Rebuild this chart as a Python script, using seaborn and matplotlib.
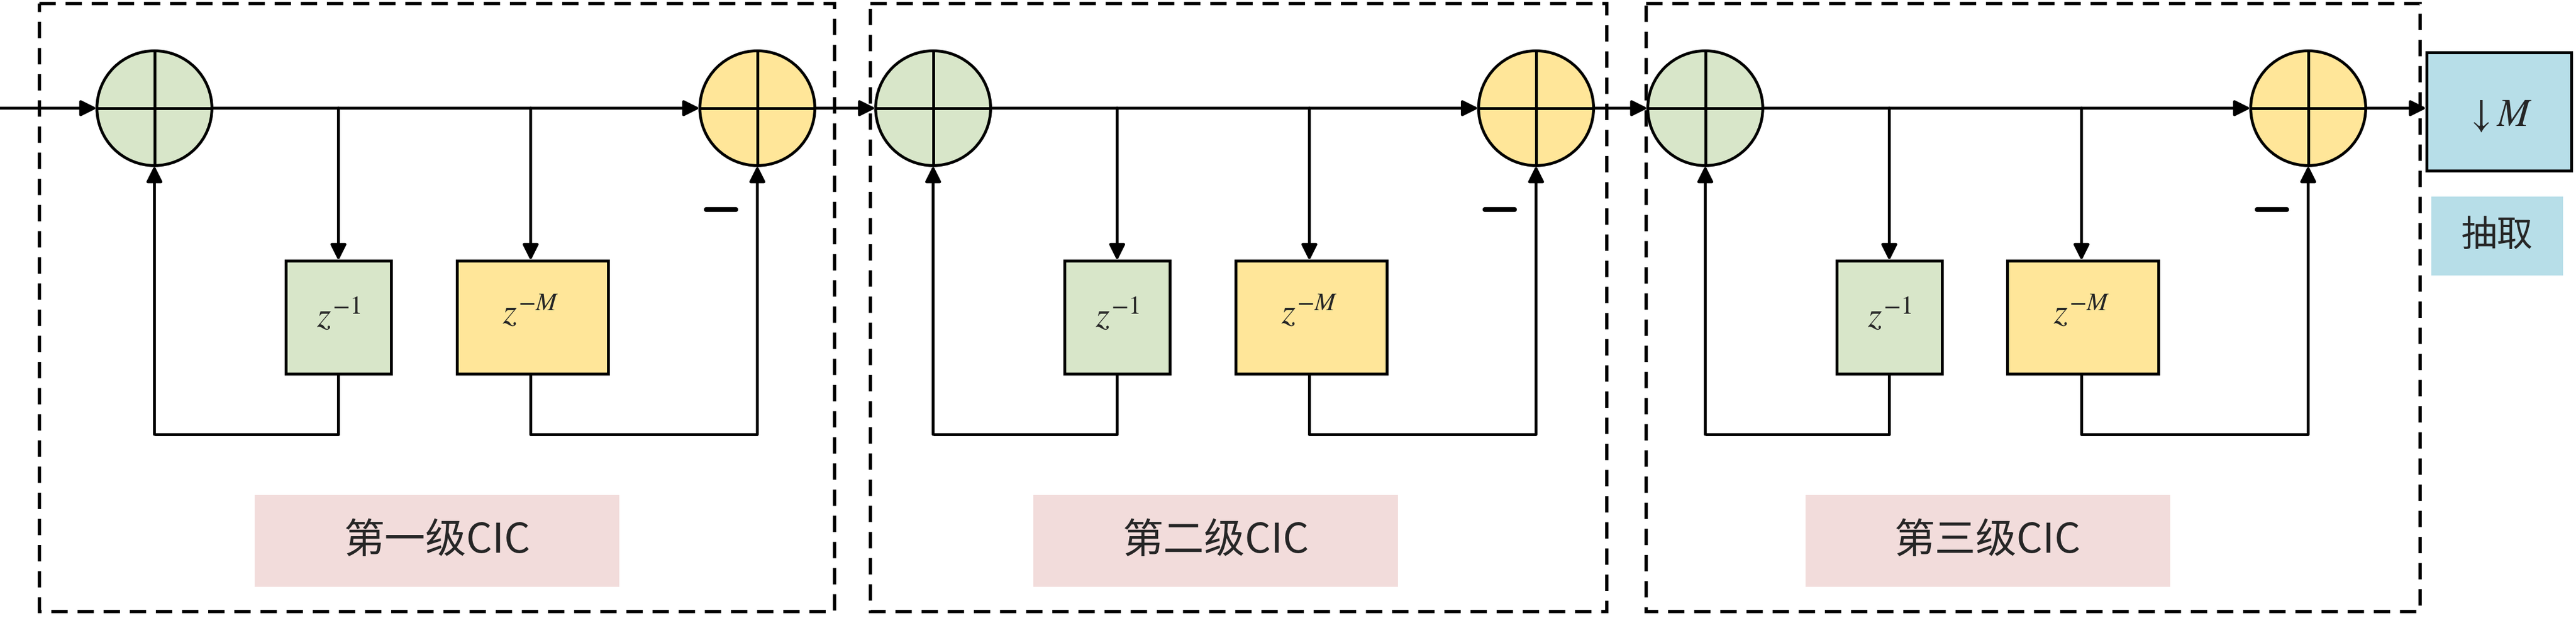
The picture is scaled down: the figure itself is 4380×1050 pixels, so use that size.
import matplotlib
matplotlib.use("Agg")
import matplotlib.pyplot as plt
import seaborn as sns
from matplotlib.patches import Circle, Rectangle

sns.set_theme(style="white")
plt.rcParams['font.family'] = ['Noto Sans CJK SC', 'DejaVu Sans']
plt.rcParams['mathtext.fontset'] = 'stix'

# diagram content
stage_labels = ["第一级CIC", "第二级CIC", "第三级CIC"]
stage_offsets = [0, 474, 944]
delay_labels = [r"$z^{-1}$", r"$z^{-M}$"]
decim_label = r"$\downarrow M$"
decim_name = "抽取"

GREEN = "#d8e6c9"
YELLOW = "#ffe699"
PINK = "#f2dcdb"
BLUE = "#b7dee8"
LW = 3.5
R = 35
Y0 = 66

fig = plt.figure(figsize=(43.8, 10.5), dpi=100)
ax = fig.add_axes([0, 0, 1, 1])
ax.set_xlim(0, 1568)
ax.set_ylim(377, 0)
ax.axis("off")

def arrow(x0, y0, x1, y1):
    ax.annotate("", xy=(x1, y1), xytext=(x0, y0),
                arrowprops=dict(arrowstyle="-|>", lw=LW, color="black",
                                mutation_scale=40, shrinkA=0, shrinkB=0))

def line(xs, ys):
    ax.plot(xs, ys, color="black", lw=LW, solid_capstyle="butt")

def adder(cx, cy, color):
    ax.add_patch(Circle((cx, cy), R, facecolor=color, edgecolor="black", lw=LW, zorder=3))
    ax.plot([cx - R, cx + R], [cy, cy], color="black", lw=LW, zorder=4)
    ax.plot([cx, cx], [cy - R, cy + R], color="black", lw=LW, zorder=4)

for i, off in enumerate(stage_offsets):
    w = 484 if i == 0 else (448 if i == 1 else 471)
    left = 24 if i == 0 else (530 if i == 1 else 1002)
    ax.add_patch(Rectangle((left, 2), w, 371, fill=False, edgecolor="black",
                           lw=4, linestyle=(0, (5, 3))))
    g = 94 + off
    yel = 461 + off
    t1 = 206 + off
    t2 = 323 + off
    adder(g, Y0, GREEN)
    adder(yel, Y0, YELLOW)
    arrow(g + R, Y0, yel - R, Y0)
    # taps
    arrow(t1, Y0, t1, 159)
    arrow(t2, Y0, t2, 159)
    ax.add_patch(Rectangle((t1 - 32, 159), 64, 69, facecolor=GREEN, edgecolor="black", lw=LW))
    ax.add_patch(Rectangle((t2 - 45, 159), 92, 69, facecolor=YELLOW, edgecolor="black", lw=LW))
    ax.text(t1, 193, delay_labels[0], fontsize=44, ha="center", va="center")
    ax.text(t2, 191, delay_labels[1], fontsize=44, ha="center", va="center")
    # feedback paths
    line([t1, t1, g], [228, 265, 265])
    arrow(g, 265, g, Y0 + R)
    line([t2, t2, yel], [228, 265, 265])
    arrow(yel, 265, yel, Y0 + R)
    ax.plot([yel - 31, yel - 13], [128, 128], color="black", lw=6)
    # label
    ax.add_patch(Rectangle((155 + off, 302), 222, 56, facecolor=PINK, edgecolor="none"))
    ax.text(266 + off, 330, stage_labels[i], fontsize=50, ha="center", va="center")

# connections between stages
arrow(0, Y0, 94 - R, Y0)
for a, b in zip(stage_offsets[:-1], stage_offsets[1:]):
    arrow(461 + a + R, Y0, 94 + b - R, Y0)
arrow(461 + stage_offsets[-1] + R, Y0, 1477, Y0)

ax.add_patch(Rectangle((1477, 32), 88, 72, facecolor=BLUE, edgecolor="black", lw=LW))
ax.text(1521, 70, decim_label, fontsize=48, ha="center", va="center")
ax.add_patch(Rectangle((1480, 120), 80, 48, facecolor=BLUE, edgecolor="none"))
ax.text(1520, 144, decim_name, fontsize=44, ha="center", va="center")

fig.savefig("out.png", dpi=100)
